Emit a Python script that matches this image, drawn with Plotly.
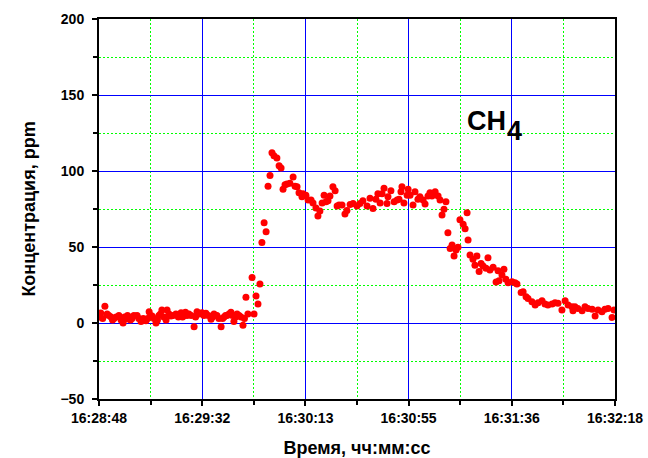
import plotly.graph_objects as go

# Elapsed time from 16:28:48, seconds
time_s = [
    0.3, 0.7, 1.5, 2.4, 3.3, 4.0, 4.9, 5.5, 6.1, 7.0, 8.1, 9.0, 9.8, 10.4, 11.0, 11.6,
    12.2, 12.8, 13.4, 14.2, 15.5, 16.2, 17.1, 18.0, 19.1, 19.8, 20.4, 21.0, 21.6, 22.4,
    23.2, 23.8, 24.4, 25.0, 25.6, 26.4, 27.3, 27.7, 28.5, 29.3, 30.2, 31.3, 32.3, 33.4,
    34.0, 34.6, 35.2, 35.8, 36.6, 37.5, 38.7, 39.3, 39.9, 40.8, 41.9, 42.7, 43.5, 44.5,
    45.6, 46.2, 46.8, 47.4, 48.0, 48.8, 49.7, 50.3, 50.9, 51.5, 52.1, 52.9, 53.7, 54.3,
    54.9, 55.6, 56.2, 57.0, 57.8, 58.6, 59.2,
    59.8, 60.6, 62.3, 63.1, 63.9, 64.7, 65.5, 66.3, 67.2, 68.0, 68.8, 69.6, 70.4, 71.2,
    72.4, 73.3, 74.1, 74.9, 75.7, 76.5, 77.7, 79.0, 79.8, 80.6, 81.4, 82.6, 83.0, 84.2,
    85.1, 86.3, 87.1, 88.3, 89.1, 89.9, 90.8, 91.6, 92.4, 93.2, 94.0, 95.2, 96.1, 96.9,
    97.7, 98.9, 100.1, 100.9, 102.2, 103.4, 105.0, 106.2, 107.4, 109.1, 110.3, 111.5,
    112.7, 113.5, 114.4, 115.2, 116.0, 117.2, 117.6, 118.8, 120.1, 121.3, 122.1, 122.9,
    123.3, 124.1, 125.4, 125.8, 126.6, 127.8, 128.6, 129.8, 130.6, 131.9, 132.7, 133.9,
    134.7, 135.5, 136.8, 138.0, 138.8, 139.6, 140.4, 141.2, 142.0, 142.9, 143.7, 144.5,
    145.3, 146.1, 146.9, 148.2, 149.0, 149.8, 150.2, 151.0, 152.2, 153.0, 153.8, 154.7,
    155.5, 156.3, 157.5, 158.3, 159.1, 160.4, 161.6, 162.4, 162.8, 164.0, 164.8, 165.6,
    166.5, 168.1, 169.3, 170.1, 171.8, 172.6, 173.8, 174.6, 176.2, 177.5, 178.7, 180.3,
    181.5, 182.7, 184.4, 185.6, 186.8, 188.4, 189.7, 190.9, 192.5, 192.9, 193.7, 194.9,
    196.6, 197.8, 199.0, 200.7, 201.9, 203.1, 204.7, 205.9, 207.2, 208.8, 209.6,
]

# CH4 concentration, ppm
ch4_ppm = [
    4, 6.6, 3, 11, 6, 5, 4, 2, 3, 4, 5, 2, 0, 4, 2.6, 5,
    4, 2, 3, 5, 5, 3, 1, 3, 1.5, 3, 7.4, 5, 4.6, 3,
    0, 2, 5, 6, 8.5, 4, 2, 8.5, 6, 4.6, 5, 6, 4, 6.8,
    4, 5, 7, 5, 6, 5, -2.4, 4, 7.4, 6, 6.8, 5, 6.4, 5,
    2.4, 4, 6, 5, 5, 3, -2.4, 3, 4, 5, 5, 6, 7, 5,
    1, 4, 6, 5, 4, -1.4, 3,
    17, 6, 30, 6, 17.8, 12.5, 25.6, 53, 66, 60, 90, 97, 112, 110,
    108.5, 103.5, 102, 88, 91, 91.4, 92, 96, 90, 89.7, 85.7, 83, 85, 84,
    81, 81, 79, 75.6, 70.4, 73.7, 79, 84, 79.8, 80.5, 83.5, 89.7, 87, 77,
    77.6, 77.6, 71.7, 74, 78, 78.7, 77, 78.7, 80.5, 77, 82, 75.4,
    81.4, 85, 79, 85, 88.6, 78.7, 83, 87, 79.8, 81, 81.4, 86.4,
    89.7, 79, 84, 88, 84, 77.6, 86.4, 81.4, 83, 81, 78.3, 83.5,
    85.7, 83.5, 86.4, 83.5, 81, 71, 74.8, 79.8, 59.4, 49, 51.3, 44,
    48, 49.8, 68, 65, 62, 72.6, 54.6, 44.7, 41.9, 38, 44, 33.8,
    39.2, 37.5, 36, 43, 34.9, 36.6, 27, 34.4, 27.8, 31.6, 35.3, 28.8,
    26.5, 27.2, 26.5, 25.7, 20, 20.6, 17.3, 16.2, 14, 11.8, 13.4, 14.7,
    12.5, 11.8, 12.5, 13.4, 13, 8.5, 14.7, 11.8, 10.7, 8, 10.7, 9.6,
    8, 10.7, 9.6, 9, 4.6, 8.5, 7.4, 9, 9.6, 3.7, 8.5,
]

tick_seconds = [0, 42, 84, 126, 168, 210]
tick_labels = ["16:28:48", "16:29:32", "16:30:13", "16:30:55", "16:31:36", "16:32:18"]
minor_seconds = [21, 63, 105, 147, 189]

FONT = "Liberation Sans, Arial, sans-serif"
MAJOR_GRID = "#0000ff"
MINOR_GRID = "#00ff00"
MINOR_DASH = "2px,2px"

fig = go.Figure(
    go.Scatter(
        x=time_s,
        y=ch4_ppm,
        mode="markers",
        marker=dict(color="#ff0000", size=7, line=dict(width=0)),
        showlegend=False,
    )
)

# Species label: "CH" with a full-size, lowered "4"
label_font = dict(family=FONT, size=27, color="black", weight="bold")
fig.add_annotation(
    x=166.5, y=133, xref="x", yref="y", text="CH",
    xanchor="right", yanchor="middle", showarrow=False, font=label_font,
)
fig.add_annotation(
    x=166.5, y=133, xref="x", yref="y", text="4",
    xanchor="left", yanchor="middle", xshift=-3, yshift=-10,
    showarrow=False, font=label_font,
)

axis_common = dict(
    showline=True,
    linecolor="black",
    linewidth=2,
    mirror=True,
    ticks="outside",
    ticklen=5,
    tickwidth=1.5,
    tickcolor="black",
    showgrid=True,
    gridcolor=MAJOR_GRID,
    gridwidth=1.4,
    zeroline=False,
    automargin=False,
    tickfont=dict(family=FONT, size=14, color="black", weight="bold"),
)

minor_common = dict(
    ticks="outside",
    ticklen=4,
    tickcolor="black",
    showgrid=True,
    gridcolor=MINOR_GRID,
    griddash=MINOR_DASH,
    gridwidth=1.2,
)

fig.update_xaxes(
    range=[0, 210],
    tickmode="array",
    tickvals=tick_seconds,
    ticktext=tick_labels,
    minor=dict(tickmode="array", tickvals=minor_seconds, **minor_common),
    title=dict(
        text="Время, чч:мм:сс",
        font=dict(family=FONT, size=18, color="black", weight="bold"),
        standoff=26,
    ),
    **axis_common,
)

fig.update_yaxes(
    range=[-50, 200],
    tickmode="linear",
    tick0=0,
    dtick=50,
    ticklabelstandoff=5,
    minor=dict(dtick=25, tick0=0, **minor_common),
    title=dict(
        text="Концентрация, ppm",
        font=dict(family=FONT, size=18, color="black", weight="bold"),
        standoff=20,
    ),
    **axis_common,
)

fig.update_layout(
    width=648,
    height=458,
    margin=dict(l=99, r=33, t=19, b=59),
    paper_bgcolor="white",
    plot_bgcolor="white",
)

fig.write_html("out.html")
